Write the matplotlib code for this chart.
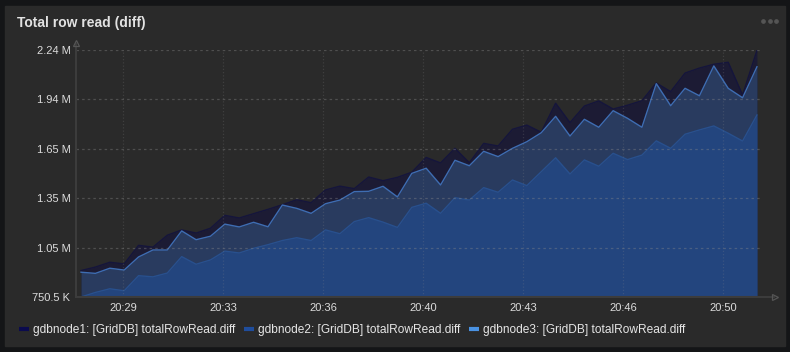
import matplotlib.pyplot as plt
from matplotlib.lines import Line2D
from matplotlib.patches import Rectangle
import numpy as np

plt.rcParams['font.family'] = ['Liberation Sans', 'DejaVu Sans']

# values in millions, one sample per ~30 s
node1 = [0.910, 0.931, 0.960, 0.950, 1.062, 1.051, 1.123, 1.155, 1.136, 1.165,
         1.243, 1.227, 1.253, 1.279, 1.307, 1.337, 1.319, 1.396, 1.419, 1.404,
         1.474, 1.452, 1.472, 1.503, 1.592, 1.559, 1.647, 1.560, 1.677, 1.661,
         1.762, 1.787, 1.744, 1.919, 1.802, 1.902, 1.933, 1.884, 1.907, 1.934,
         2.041, 1.989, 2.101, 2.131, 2.154, 2.166, 1.969, 2.238]
node2 = [0.900, 0.893, 0.924, 0.913, 0.992, 1.034, 1.034, 1.149, 1.096, 1.117,
         1.190, 1.173, 1.201, 1.174, 1.305, 1.285, 1.255, 1.313, 1.335, 1.386,
         1.388, 1.418, 1.354, 1.496, 1.527, 1.426, 1.575, 1.542, 1.629, 1.597,
         1.647, 1.687, 1.741, 1.840, 1.721, 1.822, 1.774, 1.874, 1.828, 1.774,
         2.037, 1.904, 2.009, 1.964, 2.144, 2.009, 1.952, 2.139]
node3 = [0.7505, 0.778, 0.800, 0.788, 0.879, 0.872, 0.895, 0.994, 0.948, 0.974,
         1.027, 1.016, 1.044, 1.066, 1.091, 1.108, 1.091, 1.155, 1.132, 1.205,
         1.229, 1.202, 1.170, 1.291, 1.316, 1.255, 1.349, 1.335, 1.410, 1.382,
         1.456, 1.422, 1.506, 1.590, 1.492, 1.577, 1.539, 1.617, 1.579, 1.606,
         1.692, 1.647, 1.732, 1.758, 1.782, 1.738, 1.691, 1.848]

series_names = ["gdbnode1: [GridDB] totalRowRead.diff",
                "gdbnode2: [GridDB] totalRowRead.diff",
                "gdbnode3: [GridDB] totalRowRead.diff"]
x_labels = ["20:29", "20:33", "20:36", "20:40", "20:43", "20:46", "20:50"]
y_labels = ["750.5 K", "1.05 M", "1.35 M", "1.65 M", "1.94 M", "2.24 M"]
y_min, y_max = 0.7505, 2.24

fill_colors = ["#1c1b34", "#293b5f", "#23457e"]
line_colors = ["#15153c", "#3e6db2", "#28508e"]
legend_colors = ["#0b0b4e", "#1f4d9c", "#4a92e2"]

W, H = 790, 352
fig = plt.figure(figsize=(W / 100, H / 100), dpi=100)
fig.patch.set_facecolor("#141517")
fig.patches.append(Rectangle((5 / W, 1 - 346 / H), 780 / W, 340 / H,
                             transform=fig.transFigure, color="#2a2a2a", zorder=-5))

fig.text(17 / W, 1 - 23 / H, "Total row read (diff)", fontsize=10, fontweight="bold",
         color="#e2e2e2", va="center", ha="left")
fig.add_artist(Line2D([763 / W, 769.5 / W, 776 / W], [1 - 21 / H] * 3, ls="none",
                      marker="o", ms=2.4, color="#555555", transform=fig.transFigure))

ax = fig.add_axes([76 / W, 1 - 297 / H, 686 / W, 247 / H])
ax.set_facecolor("none")
ax.set_zorder(1)

x = np.arange(len(node1))
for vals, fc, lc, z in zip([node1, node2, node3], fill_colors, line_colors, [2, 3, 4]):
    ax.fill_between(x, y_min, vals, color=fc, lw=0, zorder=z)
    ax.plot(x, vals, color=lc, lw=1, zorder=z)

ax.set_xlim(-0.35, 47.35)
ax.set_ylim(y_min, y_max)

yt = np.linspace(y_min, y_max, len(y_labels))
ax.set_yticks(yt)
ax.set_yticklabels(y_labels)
xt = 2.92 + 6.954 * np.arange(len(x_labels))
ax.set_xticks(xt)
ax.set_xticklabels(x_labels)
ax.tick_params(length=0, colors="#dcdcdc", labelsize=8, pad=4)

# grid sits on top of the areas, faint
for v in yt[1:]:
    ax.axhline(v, color="#8c8c8c", alpha=0.38, lw=0.9, ls=(0, (2, 2.5)), zorder=6)
for v in xt:
    ax.axvline(v, color="#8c8c8c", alpha=0.22, lw=0.9, ls=(0, (1, 1.6)), zorder=6)
for s in ax.spines.values():
    s.set_visible(False)

# axis lines with open arrow heads
ax_col = "#3c3c3c"
fig.add_artist(Line2D([76 / W, 76 / W], [1 - 297 / H, 1 - 44 / H], color=ax_col, lw=1.5,
                      transform=fig.transFigure, zorder=5))
fig.add_artist(Line2D([76 / W], [1 - 43 / H], marker="^", ms=5, mfc="none", mec="#555555",
                      mew=0.9, transform=fig.transFigure, zorder=5))
fig.add_artist(Line2D([76 / W, 774 / W], [1 - 297 / H, 1 - 297 / H], color=ax_col, lw=1.5,
                      transform=fig.transFigure, zorder=5))
fig.add_artist(Line2D([775 / W], [1 - 297 / H], marker=">", ms=5, mfc="none", mec="#555555",
                      mew=0.9, transform=fig.transFigure, zorder=5))

handles = [Line2D([0], [0], color=c, lw=3, solid_capstyle="butt") for c in legend_colors]
leg = fig.legend(handles, series_names, loc="center left", ncol=3,
                 bbox_to_anchor=(19 / W, 1 - 330 / H), frameon=False, fontsize=8.6,
                 handlelength=0.85, handletextpad=0.35, columnspacing=0.7,
                 borderpad=0, borderaxespad=0)
for t in leg.get_texts():
    t.set_color("#e6e6e6")

fig.savefig("out.png", dpi=100, facecolor=fig.get_facecolor())
